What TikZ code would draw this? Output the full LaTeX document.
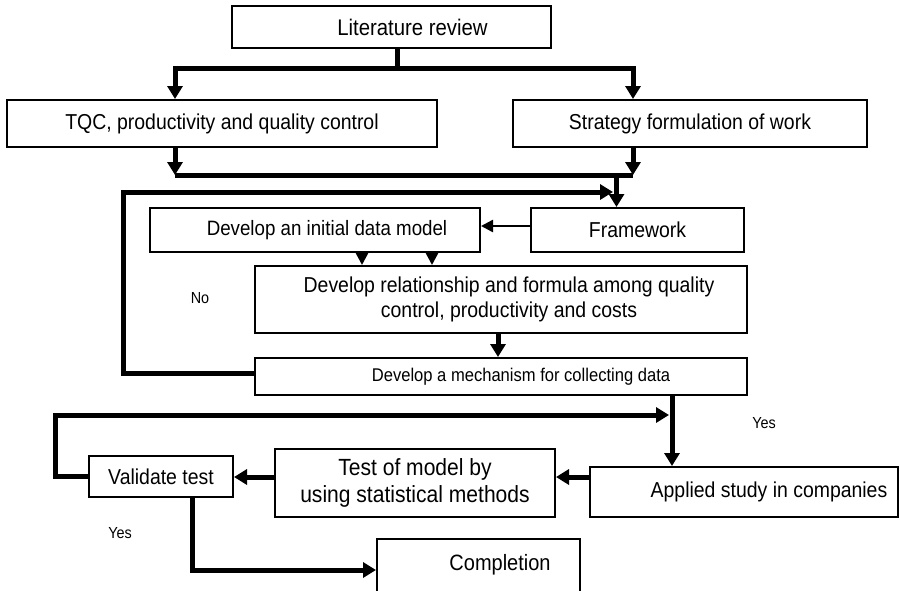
\documentclass[tikz,border=0pt]{standalone}
\usepackage{fontspec}
\setmainfont{Liberation Sans}[FakeStretch=0.9]
\usetikzlibrary{arrows.meta}
\tikzset{
	box/.style={draw, line width=2pt, inner sep=0pt, align=center, font=\fontsize{21.6}{25}\selectfont},
	shiftr/.style={execute at begin node={\hspace*{#1}}},
	bigline/.style={line width=5pt},
	bigarrow/.style={line width=5pt, -{Triangle[length=13pt,width=15pt]}},
	smallarrow/.style={line width=2.5pt, -{Triangle[length=12pt,width=12pt]}},
	note/.style={font=\fontsize{16}{19}\selectfont}
}

\begin{document}
\begin{tikzpicture}[x=1pt, y=-1pt]
		%%%%% START %%%%%
		\useasboundingbox (0,0) rectangle (900,590);
		
		\node[box, shiftr=42pt, minimum width=319pt, minimum height=42pt, font=\fontsize{22.6}{26}\selectfont] (lit) at (391.5,27) {Literature review};
		\node[box, minimum width=430pt, minimum height=47pt] (tqc) at (222,123.5) {TQC, productivity and quality control};
		\node[box, minimum width=354pt, minimum height=47pt] (strat) at (690,123.5) {Strategy formulation of work};
		
		\node[box, shiftr=24pt, minimum width=330pt, minimum height=44pt, font=\fontsize{20.8}{24}\selectfont] (initm) at (315,230) {Develop an initial data model};
		\node[box, minimum width=213pt, minimum height=44pt] (frame) at (637.5,230) {Framework};
		\node[box, shiftr=16pt, minimum width=492pt, minimum height=67pt] (rel) at (501,299.5) {Develop relationship and formula among quality\\control, productivity and costs};
		\node[box, shiftr=40pt, minimum width=492pt, minimum height=37pt, font=\fontsize{18.4}{22}\selectfont] (mech) at (501,376.5) {Develop a mechanism for collecting data};
		
		\node[box, shiftr=50pt, minimum width=308pt, minimum height=50pt] (appl) at (744,492) {Applied study in companies};
		\node[box, minimum width=280pt, minimum height=68pt, font=\fontsize{23.4}{26.5}\selectfont] (test) at (415,483) {Test of model by\\using statistical methods};
		\node[box, minimum width=144pt, minimum height=41pt] (valid) at (161,476.5) {Validate test};
		\node[box, shiftr=43pt, anchor=north, text depth=28pt, minimum width=203pt, minimum height=74pt, font=\fontsize{22.2}{26}\selectfont] (compl) at (478.5,538) {Completion};
		
		\node[note] (no) at (200,298) {No};
		\node[note] (yesright) at (764,423) {Yes};
		\node[note] (yesleft) at (120,533) {Yes};
		
		% literature review splits in two
		\coordinate (split) at (397,68);
		\draw[bigline] ([xshift=5.5pt]lit.south) -- (split);
		\draw[bigarrow] (split) -| ([xshift=-47pt]tqc.north);
		\draw[bigarrow] (split) -| ([xshift=-57pt]strat.north);
		
		% both join again above the framework
		\coordinate (mergeL) at (175,175);
		\coordinate (mergeR) at (633,175);
		\draw[bigline] (mergeL) -- (mergeR);
		\draw[bigarrow] ([xshift=-47pt]tqc.south) -- (mergeL);
		\draw[bigarrow] ([xshift=-57pt]strat.south) -- (mergeR);
		\draw[bigarrow] ([xshift=-21pt]frame.north |- mergeR) -- ([xshift=-21pt]frame.north);
		
		% no: back to the top
		\coordinate (backin) at (613,192);
		\draw[bigarrow] ([yshift=3.5pt]mech.west) -| (123,192) -- (backin);
		
		\draw[smallarrow] ([yshift=4pt]frame.west) -- ([yshift=4pt]frame.west -| initm.east);
		\foreach \dx in {47,117}
			\draw[smallarrow] ([xshift=\dx pt]initm.south) -- ([xshift=\dx pt]initm.south |- rel.north);
		\draw[bigarrow] ([xshift=-3pt]rel.south) -- ([xshift=-3pt]rel.south |- mech.north);
		\draw[bigarrow] ([xshift=171pt]mech.south) -- ([xshift=171pt]mech.south |- appl.north);
		
		% yes: test loop
		\coordinate (testin) at (669,415);
		\draw[bigarrow] (valid.west) -| (55,415) -- (testin);
		\draw[bigarrow] ([yshift=15pt]appl.west) -- ([yshift=15pt]appl.west -| test.east);
		\draw[bigarrow] ([yshift=6pt]test.west) -- ([yshift=6pt]test.west -| valid.east);
		\draw[bigarrow] ([xshift=31pt]valid.south) |- ([yshift=6pt]compl.west);
		%%%%% END %%%%%
\end{tikzpicture}
\end{document}
